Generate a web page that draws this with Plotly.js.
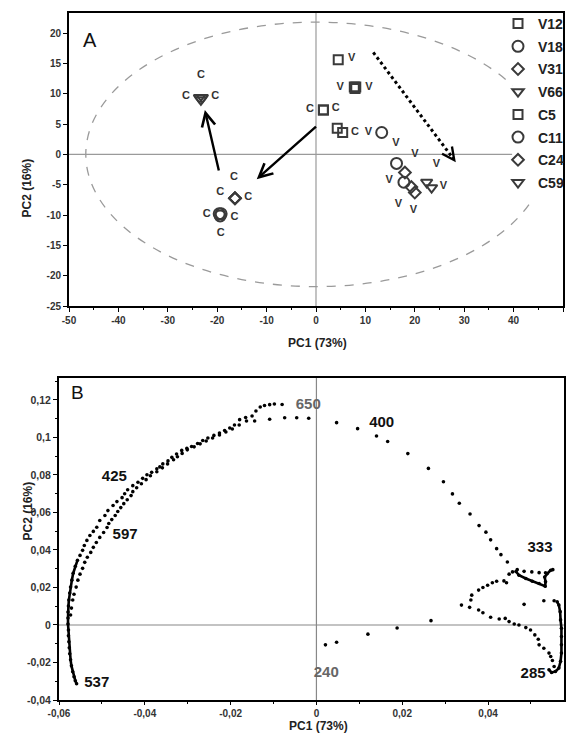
<!DOCTYPE html>
<html><head><meta charset="utf-8">
<script src="https://cdn.plot.ly/plotly-3.0.1.min.js"></script>
<style>html,body{margin:0;padding:0;background:#fff;} #chart{width:568px;height:740px;}</style>
</head><body><div id="chart"></div>
<script>
// ---------- Panel A: PCA scores ----------
const seriesNames = ['V12','V18','V31','V66','C5','C11','C24','C59'];
const v12X = [4.5, 7.75, 8.05, 7.9],  v12Y = [15.6, 11.1, 11.1, 10.85];
const v18X = [13.3, 16.3, 17.8],      v18Y = [3.6, -1.5, -4.6];
const v31X = [18.0, 19.3, 20.0],      v31Y = [-3.0, -5.4, -6.3];
const v66X = [22.4, 23.4],            v66Y = [-4.6, -5.5];
const c5X  = [1.5, 1.5, 4.3, 5.4],    c5Y  = [7.3, 7.3, 4.3, 3.6];
const c11X = [-19.6, -19.2, -19.4],   c11Y = [-9.8, -9.8, -10.15];
const c24X = [-16.4, -16.4, -16.4],   c24Y = [-7.25, -7.25, -7.25];
const c59X = [-23.6, -23.0, -23.3],   c59Y = [9.35, 9.35, 9.0];

const labelAX = [7.2, 4.9, 10.7, 10.6, 16.2, 20.0, 24.4, 14.8, 25.8, 16.7, 19.7,
                 -1.2, 4.0, 7.9, -23.3, -26.3, -20.4, -16.6, -19.4, -13.7, -22.1, -16.5, -19.3];
const labelAY = [15.8, 11.0, 11.1, 3.6, 1.8, 0.0, -1.6, -4.2, -5.2, -8.3, -9.2,
                 7.4, 7.6, 3.6, 13.1, 9.5, 9.5, -3.8, -6.3, -7.1, -9.9, -10.4, -13.0];
const labelAText = ['V','V','V','V','V','V','V','V','V','V','V',
                    'C','C','C','C','C','C','C','C','C','C','C','C'];

const xTicksA = [-50,-40,-30,-20,-10,0,10,20,30,40,50];
const xTickTextA = ['-50','-40','-30','-20','-10','0','10','20','30','40','50'];
const yTicksA = [-25,-20,-15,-10,-5,0,5,10,15,20];
const yTickTextA = ['-25','-20','-15','-10','-5','0','5','10','15','20'];

// ---------- Panel B: PCA loadings (wavelength trajectory) ----------
const seg240X = [0.0021, 0.0047, 0.0120, 0.0188, 0.0267, 0.0338];
const seg240Y = [-0.0106, -0.0092, -0.0049, -0.0016, 0.0023, 0.0106];
const lowerX = [0.0357, 0.0378, 0.0388, 0.0406, 0.0426, 0.0440, 0.0449, 0.0461, 0.0472, 0.0488, 0.0499, 0.0509, 0.0517, 0.0519, 0.0530, 0.0542, 0.0546, 0.0550, 0.0554];
const lowerY = [0.0094, 0.0080, 0.0065, 0.0041, 0.0032, 0.0035, 0.0018, 0.0005, 0.0000, -0.0014, -0.0027, -0.0053, -0.0076, -0.0106, -0.0124, -0.0150, -0.0168, -0.0189, -0.0221];
const hookX = [0.0542, 0.0548, 0.0557, 0.0565, 0.0569, 0.0571, 0.0571, 0.0571, 0.0571, 0.0569, 0.0568, 0.0565, 0.0561];
const hookY = [-0.0239, -0.0253, -0.0248, -0.0230, -0.0194, -0.0150, -0.0106, -0.0062, -0.0018, 0.0027, 0.0071, 0.0106, 0.0124];
const backX = [0.0554, 0.0530, 0.0484];
const backY = [0.0129, 0.0129, 0.0110];
const midX = [0.0360, 0.0362, 0.0378, 0.0388, 0.0399, 0.0410, 0.0420, 0.0437, 0.0443, 0.0449, 0.0457];
const midY = [0.0133, 0.0159, 0.0186, 0.0200, 0.0212, 0.0225, 0.0233, 0.0235, 0.0225, 0.0271, 0.0283];
const loopRowX = [0.0468, 0.0484, 0.0502, 0.0519, 0.0534];
const loopRowY = [0.0295, 0.0286, 0.0283, 0.0279, 0.0278];
const loopCurveX = [0.0465, 0.0472, 0.0488, 0.0503, 0.0519, 0.0533, 0.0534, 0.0532, 0.0538, 0.0546, 0.0551];
const loopCurveY = [0.0285, 0.0265, 0.0248, 0.0233, 0.0221, 0.0207, 0.0230, 0.0256, 0.0274, 0.0292, 0.0295];
const to400X = [0.0445, 0.0430, 0.0420, 0.0406, 0.0395, 0.0379, 0.0358, 0.0333, 0.0317, 0.0296, 0.0261, 0.0213, 0.0166, 0.0140, 0.0096, 0.0047, -0.0018, -0.0046, -0.0074, -0.0109, -0.0144];
const to400Y = [0.0336, 0.0375, 0.0407, 0.0454, 0.0495, 0.0530, 0.0592, 0.0649, 0.0699, 0.0764, 0.0835, 0.0914, 0.0978, 0.1008, 0.1047, 0.1079, 0.1102, 0.1105, 0.1105, 0.1097, 0.1088];
const outerX = [-0.0165, -0.0179, -0.0191, -0.0202, -0.0214, -0.0226, -0.0239, -0.0253, -0.0265, -0.0277, -0.0291, -0.0302, -0.0314, -0.0326, -0.0337, -0.0346, -0.0358, -0.0365, -0.0372, -0.0384, -0.0395, -0.0405, -0.0416, -0.0428, -0.0440, -0.0447, -0.0453, -0.0465, -0.0474, -0.0486, -0.0493, -0.0505, -0.0512, -0.0520, -0.0528, -0.0535, -0.0541, -0.0545, -0.0551];
const outerY = [0.1106, 0.1095, 0.1066, 0.1050, 0.1037, 0.1024, 0.1011, 0.0997, 0.0984, 0.0968, 0.0952, 0.0942, 0.0931, 0.0912, 0.0894, 0.0875, 0.0859, 0.0843, 0.0833, 0.0814, 0.0801, 0.0782, 0.0761, 0.0743, 0.0721, 0.0700, 0.0679, 0.0658, 0.0637, 0.0610, 0.0584, 0.0557, 0.0521, 0.0499, 0.0477, 0.0451, 0.0424, 0.0398, 0.0371];
const arcX = [-0.0557, -0.0562, -0.0567, -0.0570, -0.0573, -0.0575, -0.0577, -0.0578, -0.0579, -0.0579, -0.0579, -0.0578, -0.0578, -0.0577, -0.0576, -0.0575, -0.0573, -0.0571, -0.0568, -0.0565, -0.0562, -0.0559];
const arcY = [0.0345, 0.0313, 0.0276, 0.0239, 0.0202, 0.0170, 0.0133, 0.0101, 0.0069, 0.0037, 0.0005, -0.0027, -0.0058, -0.0090, -0.0122, -0.0154, -0.0186, -0.0218, -0.0249, -0.0276, -0.0297, -0.0313];
const innerX = [-0.0573, -0.0571, -0.0568, -0.0565, -0.0560, -0.0556, -0.0551, -0.0545, -0.0540, -0.0534, -0.0526, -0.0520, -0.0513, -0.0505, -0.0496, -0.0488, -0.0484, -0.0477, -0.0469, -0.0463, -0.0456, -0.0449, -0.0441, -0.0432, -0.0428, -0.0419, -0.0408, -0.0397, -0.0387, -0.0372, -0.0359, -0.0347, -0.0333, -0.0324, -0.0313, -0.0301, -0.0285, -0.0271, -0.0257, -0.0242, -0.0226, -0.0211, -0.0196, -0.0180, -0.0163, -0.0150, -0.0141, -0.0131, -0.0121, -0.0109, -0.0098, -0.0080];
const innerY = [0.0053, 0.0090, 0.0133, 0.0164, 0.0202, 0.0239, 0.0271, 0.0302, 0.0334, 0.0361, 0.0387, 0.0414, 0.0440, 0.0467, 0.0493, 0.0520, 0.0541, 0.0562, 0.0584, 0.0605, 0.0626, 0.0647, 0.0668, 0.0690, 0.0711, 0.0732, 0.0753, 0.0775, 0.0796, 0.0817, 0.0838, 0.0859, 0.0881, 0.0897, 0.0915, 0.0934, 0.0950, 0.0966, 0.0981, 0.0997, 0.1013, 0.1029, 0.1045, 0.1066, 0.1088, 0.1114, 0.1141, 0.1162, 0.1170, 0.1175, 0.1178, 0.1176];

const wlLabels = ['650','400','425','597','333','285','240','537'];
const wlX = [-0.0019, 0.0152, -0.0471, -0.0446, 0.0521, 0.0505, 0.0023, -0.0512];
const wlY = [0.1172, 0.1077, 0.0790, 0.0477, 0.0408, -0.0265, -0.0260, -0.0308];
const wlColors = ['#666','#111','#111','#111','#111','#111','#666','#111'];

const xTicksB = [-0.06,-0.04,-0.02,0,0.02,0.04];
const xTickTextB = ['-0,06','-0,04','-0,02','0','0,02','0,04'];
const yTicksB = [-0.04,-0.02,0,0.02,0.04,0.06,0.08,0.1,0.12];
const yTickTextB = ['-0,04','-0,02','0','0,02','0,04','0,06','0,08','0,1','0,12'];

// ---------- build ----------
const mcol = '#3a3a3a';
function scoreTrace(name, sym, size, xs, ys) {
  return {type:'scatter', mode:'markers', name:name, legendgroup:name, x:xs, y:ys, xaxis:'x', yaxis:'y',
    marker:{symbol:sym, size:size, color:mcol, line:{width:2, color:mcol}}, hoverinfo:'skip'};
}
const traces = [
  scoreTrace('V12','square-open',9,v12X,v12Y),
  scoreTrace('V18','circle-open',11,v18X,v18Y),
  scoreTrace('V31','diamond-open',9,v31X,v31Y),
  scoreTrace('V66','triangle-down-open',10,v66X,v66Y),
  scoreTrace('C5','square-open',9,c5X,c5Y),
  scoreTrace('C11','circle-open',11,c11X,c11Y),
  scoreTrace('C24','diamond-open',9,c24X,c24Y),
  scoreTrace('C59','triangle-down-open',10,c59X,c59Y),
  {type:'scatter', mode:'text', x:labelAX, y:labelAY, text:labelAText, xaxis:'x', yaxis:'y',
   showlegend:false, hoverinfo:'skip',
   textfont:{family:'Liberation Sans, Arial, sans-serif', size:11, color:'#333', weight:'bold'}}
];
function dots(xs, ys, withLine) {
  return {type:'scatter', mode: withLine ? 'lines+markers' : 'markers', x:xs, y:ys, xaxis:'x2', yaxis:'y2',
    showlegend:false, hoverinfo:'skip',
    marker:{size:3.6, color:'#000'}, line:{color:'#000', width:2.6}};
}
traces.push(dots(seg240X, seg240Y));
traces.push(dots(lowerX, lowerY));
traces.push(dots(hookX, hookY, true));
traces.push(dots(backX, backY));
traces.push(dots(midX, midY));
traces.push(dots(loopRowX, loopRowY));
traces.push(dots(loopCurveX, loopCurveY, true));
traces.push(dots(to400X, to400Y));
traces.push(dots(outerX, outerY));
traces.push(dots(arcX, arcY, true));
traces.push(dots(innerX, innerY));
traces.push({type:'scatter', mode:'text', x:wlX, y:wlY, text:wlLabels, xaxis:'x2', yaxis:'y2',
  showlegend:false, hoverinfo:'skip',
  textfont:{family:'Liberation Sans, Arial, sans-serif', size:15, color:wlColors, weight:'bold'}});

const tickFont = {family:'Liberation Sans, Arial, sans-serif', size:10, color:'#333', weight:'bold'};
const titleFont = {family:'Liberation Sans, Arial, sans-serif', size:12, color:'#222', weight:'bold'};
function axis(extra) {
  return Object.assign({showgrid:false, zeroline:false, showline:true, linecolor:'#000', linewidth:2,
    mirror:true, ticks:'outside', ticklen:4, tickcolor:'#000', tickwidth:1, tickfont:tickFont,
    tickmode:'array', fixedrange:true, automargin:false}, extra);
}
const layout = {
  width:568, height:740, margin:{l:0,r:0,t:0,b:0,autoexpand:false}, paper_bgcolor:'#fff', plot_bgcolor:'#fff',
  showlegend:true,
  legend:{x:498/568, xanchor:'left', y:1-8/740, yanchor:'top', bgcolor:'rgba(0,0,0,0)', borderwidth:0,
    tracegroupgap:1.5,
    font:{family:'Liberation Sans, Arial, sans-serif', size:14, color:'#222', weight:'bold'}},
  xaxis: axis({domain:[69/568, 563/568], range:[-50,50], tickvals:xTicksA, ticktext:xTickTextA, anchor:'y',
    minor:{tickmode:'linear', tick0:0, dtick:5, ticks:'outside', ticklen:2, tickcolor:'#000'}}),
  yaxis: axis({domain:[1-306/740, 1-13/740], range:[-25,23.3], tickvals:yTicksA, ticktext:yTickTextA, anchor:'x'}),
  xaxis2: axis({domain:[59/568, 564/568], range:[-0.06,0.0577], tickvals:xTicksB, ticktext:xTickTextB, anchor:'y2',
    ticklen:3,
    minor:{tickmode:'linear', tick0:0, dtick:0.01, ticks:'outside', ticklen:2, tickcolor:'#000'}}),
  yaxis2: axis({domain:[1-700/740, 1-378/740], range:[-0.04,0.1317], tickvals:yTicksB, ticktext:yTickTextB, anchor:'x2',
    tickfont:Object.assign({}, tickFont, {size:10.5}),
    minor:{tickmode:'linear', tick0:0, dtick:0.01, ticks:'outside', ticklen:2, tickcolor:'#000'}}),
  shapes:[
    {type:'circle', xref:'x', yref:'y', x0:-46.6, x1:46.6, y0:-21.8, y1:21.8, layer:'below',
     line:{color:'#9a9a9a', width:1.3, dash:'dash'}},
    {type:'line', xref:'x', yref:'y', x0:-50, x1:40, y0:0, y1:0, layer:'below', line:{color:'#9a9a9a', width:1.2}},
    {type:'line', xref:'x', yref:'y', x0:0, x1:0, y0:-25, y1:23.3, layer:'below', line:{color:'#9a9a9a', width:1.2}},
    {type:'rect', xref:'x', yref:'y', x0:39.7, x1:50, y0:-7.3, y1:23.3, layer:'below', fillcolor:'#fff', line:{width:0}},
    {type:'line', xref:'x', yref:'y', x0:11.6, y0:16.8, x1:27.6, y1:-0.5, layer:'above', line:{color:'#000', width:3, dash:'dot'}},
    {type:'line', xref:'x2', yref:'y2', x0:-0.06, x1:0.0577, y0:0, y1:0, layer:'below', line:{color:'#888', width:1.2}},
    {type:'line', xref:'x2', yref:'y2', x0:0, x1:0, y0:-0.04, y1:0.1317, layer:'below', line:{color:'#888', width:1.2}}
  ],
  annotations:[
    {xref:'x', yref:'y', x:-12.0, y:-4.1, ax:0.3, ay:4.8, axref:'x', ayref:'y', text:'', showarrow:true,
     arrowhead:5, arrowsize:1.1, arrowwidth:2.4, arrowcolor:'#000'},
    {xref:'x', yref:'y', x:-22.5, y:7.3, ax:-19.6, ay:-2.9, axref:'x', ayref:'y', text:'', showarrow:true,
     arrowhead:5, arrowsize:1.1, arrowwidth:2.4, arrowcolor:'#000'},
    {xref:'x', yref:'y', x:28.3, y:-1.3, ax:27.4, ay:-0.3, axref:'x', ayref:'y', text:'', showarrow:true,
     arrowhead:5, arrowsize:1.2, arrowwidth:2, arrowcolor:'#000'},
    {xref:'paper', yref:'paper', x:81/568, y:1-27/740, text:'A', showarrow:false,
     font:{family:'Liberation Sans, Arial, sans-serif', size:20, color:'#111'}},
    {xref:'paper', yref:'paper', x:69/568, y:1-392/740, text:'B', showarrow:false,
     font:{family:'Liberation Sans, Arial, sans-serif', size:19, color:'#111'}},
    {xref:'paper', yref:'paper', x:317/568, y:1-343/740, text:'PC1 (73%)', showarrow:false, font:titleFont},
    {xref:'paper', yref:'paper', x:18/568, y:1-157/740, text:'PC2 (16%)', showarrow:false, textangle:-90, font:titleFont},
    {xref:'paper', yref:'paper', x:318/568, y:1-734/740, text:'PC1 (73%)', showarrow:false, font:titleFont, borderpad:0},
    {xref:'paper', yref:'paper', x:18/568, y:1-543/740, text:'PC2 (16%)', showarrow:false, textangle:-90, font:titleFont}
  ]
};
Plotly.newPlot('chart', traces, layout, {staticPlot:true, displayModeBar:false});
</script>
</body></html>
